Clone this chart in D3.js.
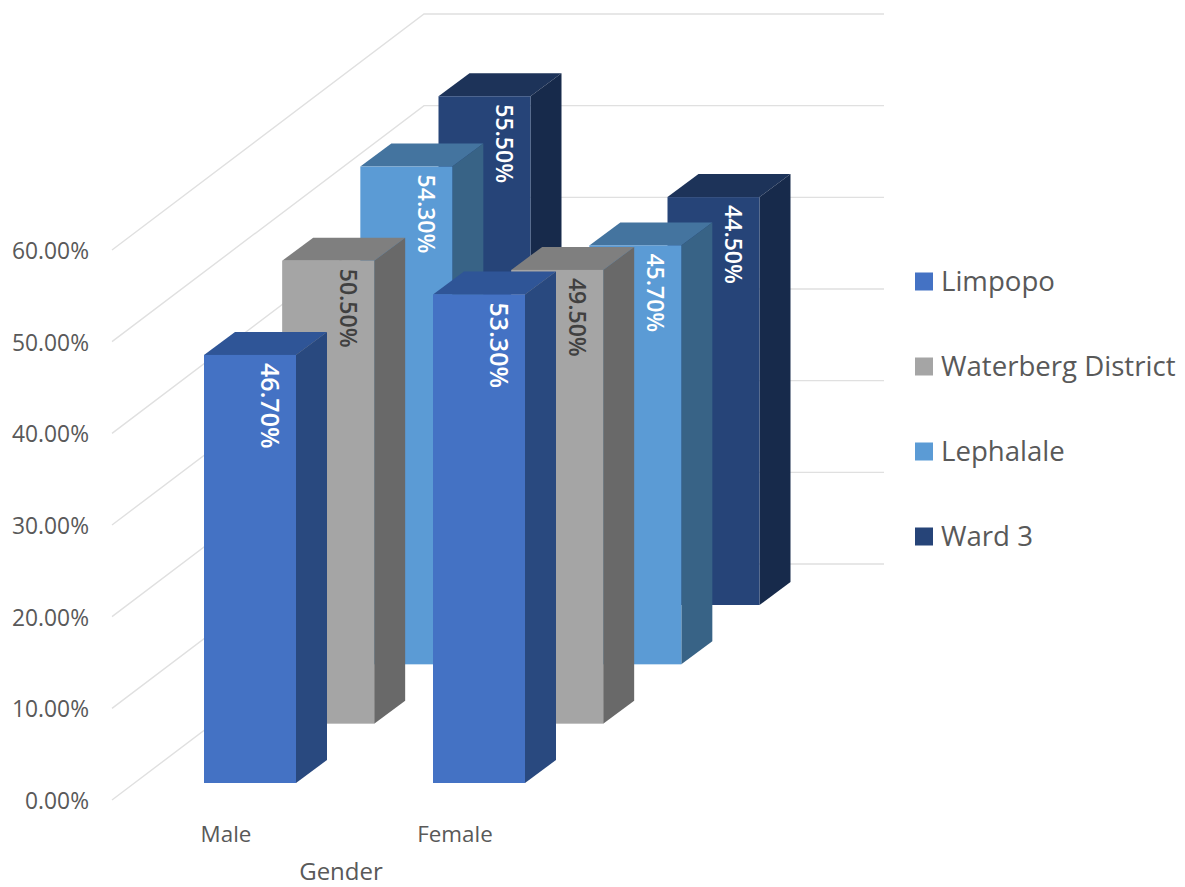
<!DOCTYPE html>
<html><head><meta charset="utf-8">
<script src="https://cdn.jsdelivr.net/npm/d3@7"></script>
<style>html,body{margin:0;padding:0;background:#fff}svg{display:block}text{font-family:"Open Sans",sans-serif}</style>
</head><body><svg id="c" width="1185" height="887"></svg>
<script>
const categories = ["Male", "Female"];
const seriesNames = ["Limpopo", "Waterberg District", "Lephalale", "Ward 3"];
const limpopo = [46.7, 53.3];
const waterberg = [50.5, 49.5];
const lephalale = [54.3, 45.7];
const ward3 = [55.5, 44.5];
const seriesValues = [limpopo, waterberg, lephalale, ward3];
const tickValues = [0, 10, 20, 30, 40, 50, 60];
const frontColors = ["#4472C4", "#A5A5A5", "#5B9BD5", "#264478"];
const topColors = ["#2F5597", "#7F7F7F", "#44749F", "#1D3359"];
const sideColors = ["#29497F", "#696969", "#386386", "#172A4B"];
const labelColors = ["#fff", "#404040", "#fff", "#fff"];
const labelSizes = [25, 23, 23, 23];

const svg = d3.select("#c");
const fmt = d => d.toFixed(2) + "%";
const y = d3.scaleLinear().domain([0, 60]).range([783, 233]);
const xCat = d3.scalePoint().domain(categories).range([204, 433]);
const depthX = d3.scalePoint().domain(seriesNames).range([0, 234.5]);
const depthY = d3.scalePoint().domain(seriesNames).range([0, 178]);
const barW = 92, sideX = 31, sideY = 23;

// walls
const wall = svg.append("g").attr("fill", "none").attr("stroke", "#E0E0E0").attr("stroke-width", 1.4);
const wallLine = d3.line();
tickValues.forEach(t => {
  const yf = y(t) + 17, yb = y(t) - 219;
  wall.append("path").attr("d", wallLine([[112, yf], [424, yb], [884, yb]]));
});

// axis labels
svg.append("g").selectAll("text").data(tickValues).join("text")
  .attr("x", 89).attr("y", d => y(d) + 18).attr("dy", "0.35em")
  .attr("text-anchor", "end").attr("font-size", 22.8).attr("fill", "#595959").text(fmt);

// bars, back to front
const bars = [];
seriesNames.forEach((s, si) => categories.forEach((c, ci) => bars.push({s, si, c, v: seriesValues[si][ci]})));
bars.sort((a, b) => b.si - a.si);
const poly = pts => "M" + pts.map(p => p.join(",")).join("L") + "Z";
const g = svg.append("g");
bars.forEach(b => {
  const x0 = xCat(b.c) + depthX(b.s), x1 = x0 + barW;
  const dy = depthY(b.s);
  const yTop = y(b.v) - dy, yBot = y(0) - dy;
  const r = g.append("g");
  r.append("path").attr("d", poly([[x0, yTop], [x1, yTop], [x1 + sideX, yTop - sideY], [x0 + sideX, yTop - sideY]])).attr("fill", topColors[b.si]);
  r.append("path").attr("d", poly([[x1, yTop], [x1 + sideX, yTop - sideY], [x1 + sideX, yBot - sideY], [x1, yBot]])).attr("fill", sideColors[b.si]);
  r.append("rect").attr("x", x0).attr("y", yTop).attr("width", barW).attr("height", yBot - yTop).attr("fill", frontColors[b.si]);
  r.append("text")
    .attr("transform", `translate(${x0 + 66},${yTop + 8}) rotate(90)`)
    .attr("dy", "0.35em").attr("font-size", labelSizes[b.si]).attr("font-weight", 600)
    .attr("fill", labelColors[b.si]).text(fmt(b.v));
});

// category labels
svg.append("g").selectAll("text").data(categories).join("text")
  .attr("x", d => xCat(d) + 22).attr("y", 834).attr("dy", "0.35em")
  .attr("text-anchor", "middle").attr("font-size", 22.4).attr("fill", "#595959").text(d => d);
svg.append("text").attr("x", 341).attr("y", 872).attr("dy", "0.35em").attr("text-anchor", "middle")
  .attr("font-size", 24).attr("fill", "#595959").text("Gender");

// legend
const legY = d3.scalePoint().domain(seriesNames).range([281.5, 536.5]);
const leg = svg.append("g").selectAll("g").data(seriesNames).join("g");
leg.append("rect").attr("x", 915).attr("y", d => legY(d) - 9).attr("width", 18).attr("height", 18).attr("fill", (d, i) => frontColors[i]);
leg.append("text").attr("x", 941).attr("y", d => legY(d)).attr("dy", "0.35em").attr("font-size", 27.6).attr("fill", "#595959").text(d => d);
</script></body></html>
